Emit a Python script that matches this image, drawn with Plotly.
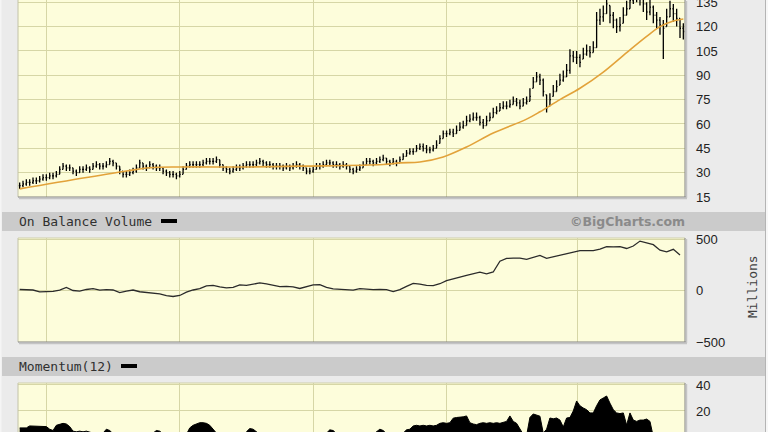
import plotly.graph_objects as go

W, H = 768, 432

# ---------------- data ----------------
closes = [22,23,24,24,25,25,26,27,27,28, 28,29,32,34,33,33,31,30,32,32,
          33,32,34,35,34,34,35,37,36,34, 32,29,29,30,31,33,36,34,33,35,
          34,33,33,31,30,29,29,28,29,32, 34,35,35,35,35,36,37,37,37,38,
          35,33,32,31,32,33,33,34,35,35, 35,36,37,36,35,35,34,34,34,33,
          34,33,34,35,34,33,31,31,32,34, 34,35,36,36,35,35,34,35,34,32,
          31,32,33,35,37,37,36,37,38,39, 37,36,37,36,38,40,42,43,43,45,
          46,45,44,44,45,47,51,54,54,55, 54,56,58,59,62,63,64,64,61,59,
          62,64,67,68,70,71,71,72,74,73, 71,73,74,77,86,89,87,80,70,75,
          80,83,87,89,93,102,101,101,98,103, 105,104,107,124,126,128,134,127,124,120,
          121,127,131,136,139,140,138,134,129,132, 127,124,121,119,126,131,128,125,119,117]
highs = [24,25,26,26,27,27,28,29,29,30, 30,31,34,36,35,35,33,32,34,34,
         35,34,36,37,36,36,37,39,38,36, 34,31,31,32,33,35,38,36,35,37,
         36,35,35,33,32,31,31,30,31,34, 36,37,37,37,37,38,39,39,39,40,
         38,35,34,33,34,35,35,36,37,37, 37,38,39,38,37,37,36,36,36,35,
         36,35,36,37,36,35,33,33,34,36, 36,37,38,38,37,37,36,37,36,34,
         33,34,35,37,39,39,38,39,40,41, 39,38,39,38,40,42,44,45,45,47,
         48,48,47,46,47,50,53,56,56,57, 57,59,61,62,65,66,67,67,65,63,
         65,67,70,71,73,74,74,75,77,76, 75,76,77,82,89,92,91,88,78,79,
         84,87,91,93,97,106,105,105,103,107, 109,108,111,129,131,133,140,133,129,125,
         126,132,136,141,144,145,143,139,135,137, 133,129,126,124,131,136,134,131,125,122]
lows = [20,21,22,22,23,23,24,25,25,26, 26,27,29,32,31,31,29,28,30,30,
        31,30,32,33,32,32,33,35,34,32, 29,27,27,28,29,30,33,32,31,33,
        32,31,31,29,28,27,27,26,27,29, 32,33,33,33,33,34,35,35,35,36,
        33,31,30,29,30,31,31,32,33,33, 33,34,35,34,33,33,32,32,32,31,
        32,31,32,33,32,31,29,29,30,32, 32,33,34,34,33,33,32,33,32,30,
        29,30,31,33,35,35,34,35,36,37, 35,34,35,34,36,38,40,41,41,43,
        44,43,42,42,43,45,48,51,52,53, 52,54,56,57,59,61,62,62,59,57,
        59,62,64,66,68,69,69,70,72,71, 69,71,72,74,82,86,84,77,67,71,
        77,80,84,86,89,91,98,97,95,100, 102,101,104,107,121,123,128,122,119,116,
        117,122,127,131,134,135,133,129,124,127, 122,119,115,100,120,126,123,120,113,112]

ma_idx = [0, 32, 39, 48, 69, 84, 109, 114, 120, 127, 134, 142, 152, 156, 162, 168, 175, 182, 188, 192, 196, 199]
ma_vals = [20, 31, 33, 33.5, 33.5, 34, 35, 36, 36.6, 39.7, 45.8, 54.4, 63, 67.5, 75, 82, 92, 104, 114, 120, 123.5, 124.7]

obv_vals = [10,10,5,-13,-13,-8,3,30,0,-5,
            10,18,3,8,5,-20,-5,5,-12,-18,
            -22,-33,-50,-58,-48,-15,5,18,45,50,
            35,25,30,55,50,60,74,65,55,38,
            40,35,20,40,55,58,30,15,10,5,
            3,18,12,8,12,8,-10,8,40,70,
            62,50,48,66,95,110,130,148,165,178,
            162,180,285,312,314,314,302,318,340,312,
            328,345,356,372,388,388,388,402,426,424,
            426,408,432,480,460,445,392,375,400,345]

momentum = [7,7,7,8.5,8.5,8.5,8.5,8.5,8,6, 5,9,10,10.5,10,8,4.5,4,4.5,4,
            4.5,4,3,2,2,3,6,5,2,0, 0,0,0,0,0,0,0,0,0,0,
            3,5,4.5,2,0,0,0,0,0,0, 2,7,9,10,11,11,10.5,9,6,3,
            0,0,0,0,0,0,0,0,4,6.5, 6,4,2,0,0,0,0,0,0,0,
            0,0,0,0,0,0,0,0,0,0, 0,0,3,5.5,5,3,0,0,0,0,
            0,0,0,0,0,0,2,4,6,5, 2,0,0,0,0,3,5.5,6,8.5,9,
            8.5,9,8.5,9,8.5,9,10.5,11,10.5,11, 14.5,15,15,15.5,16.2,11,10,9.5,10.5,11,
            10.5,11,10.5,11,10.5,11,12,16.2,12,10.5, 6,2,1,15,17.7,17,16,3,6,14.6,
            14,14.6,13,7.7,14.6,15,20,27.7,24,22.3, 21,18.5,18.5,24,28.5,30,31.5,26,21,18.5,
            18,18.5,9.2,18.5,13,12,13,13,13.8,12, 0,0,0,0,0,0,0,0,0,0]

price_ticks = [15, 30, 45, 60, 75, 90, 105, 120, 135]
obv_ticks = [-500, 0, 500]
mom_ticks = [20, 40]
year_lines = [7.9, 47.8, 88, 128, 167.4]

# ---------------- figure ----------------
n = len(closes)
idx = list(range(n))
opens = [closes[0]] + closes[:-1]
opens = [min(max(o, l), h) for o, l, h in zip(opens, lows, highs)]

def px(x):
    return x / W

def py(y):
    return 1 - y / H

BG = '#ebebeb'
PLOT_BG = '#fdfddb'
GRID = '#d6d6a6'
LEFT, RIGHT = 18, 685
panels = {'y': (0, 197), 'y2': (238, 342), 'y3': (383, 432)}

fig = go.Figure()
fig.add_trace(go.Scatter(x=ma_idx, y=ma_vals, mode='lines',
                         line=dict(color='#e2a23a', width=1.6, shape='spline'),
                         xaxis='x', yaxis='y', hoverinfo='skip'))
fig.add_trace(go.Ohlc(x=idx, open=opens, high=highs, low=lows, close=closes,
                      increasing=dict(line=dict(color='black', width=1.3)),
                      decreasing=dict(line=dict(color='black', width=1.3)),
                      tickwidth=0.3, xaxis='x', yaxis='y', hoverinfo='skip'))
fig.add_trace(go.Scatter(x=list(range(0, n, 2)), y=obv_vals, mode='lines',
                         line=dict(color='#2b2b2b', width=1.3),
                         xaxis='x2', yaxis='y2', hoverinfo='skip'))
fig.add_trace(go.Scatter(x=idx, y=momentum, mode='lines', fill='tozeroy',
                         fillcolor='black', line=dict(color='black', width=1),
                         xaxis='x3', yaxis='y3', hoverinfo='skip'))

tickfont = dict(family='Liberation Sans, Arial', size=13, color='#222222')

def xax(anchor):
    return dict(domain=[px(LEFT), px(RIGHT)], range=[-0.5, n - 0.5], anchor=anchor,
                tickvals=year_lines, showticklabels=False, ticks='',
                showgrid=True, gridcolor=GRID, gridwidth=1, zeroline=False,
                showline=False, fixedrange=True, automargin=False)

def yax(anchor, key, rng, tv):
    top, bot = panels[key]
    return dict(domain=[py(bot), py(top)], range=rng, anchor=anchor, side='right',
                tickvals=tv, ticks='', ticklabelstandoff=10, tickfont=tickfont,
                ticklabeloverflow='allow',
                showgrid=True, gridcolor=GRID, gridwidth=1, zeroline=False,
                showline=False, fixedrange=True, automargin=False)

shapes = []
# header bars
for (y0, y1) in [(212, 231), (357, 376)]:
    shapes.append(dict(type='rect', xref='paper', yref='paper', x0=px(2), x1=px(766),
                       y0=py(y1), y1=py(y0), fillcolor='#cbcbcb', line=dict(width=0), layer='below'))
# panel borders
for key, (top, bot) in panels.items():
    shapes.append(dict(type='line', xref='paper', yref='paper', x0=px(LEFT), x1=px(LEFT),
                       y0=py(bot), y1=py(top), line=dict(color='#c2c2a8', width=1)))
    if top > 0:
        shapes.append(dict(type='line', xref='paper', yref='paper', x0=px(LEFT), x1=px(RIGHT),
                           y0=py(top), y1=py(top), line=dict(color='#cfcfa8', width=1)))
    if bot < H:
        shapes.append(dict(type='line', xref='paper', yref='paper', x0=px(LEFT), x1=px(RIGHT + 1),
                           y0=py(bot), y1=py(bot), line=dict(color='#808080', width=1)))
        shapes.append(dict(type='line', xref='paper', yref='paper', x0=px(LEFT + 1), x1=px(RIGHT + 2),
                           y0=py(bot + 1.5), y1=py(bot + 1.5), line=dict(color='#c4c4c4', width=1.5)))
    shapes.append(dict(type='line', xref='paper', yref='paper', x0=px(RIGHT), x1=px(RIGHT),
                       y0=py(bot), y1=py(top), line=dict(color='#808080', width=1)))
    shapes.append(dict(type='line', xref='paper', yref='paper', x0=px(RIGHT + 1.5), x1=px(RIGHT + 1.5),
                       y0=py(bot + 1), y1=py(top + 1), line=dict(color='#c4c4c4', width=1.5)))
# legend dashes
shapes.append(dict(type='rect', xref='paper', yref='paper', x0=px(161), x1=px(177),
                   y0=py(223), y1=py(219), fillcolor='black', line=dict(width=0)))
shapes.append(dict(type='rect', xref='paper', yref='paper', x0=px(121), x1=px(137),
                   y0=py(368), y1=py(364), fillcolor='black', line=dict(width=0)))
# page edges
shapes.append(dict(type='rect', xref='paper', yref='paper', x0=px(765.5), x1=1, y0=0, y1=1,
                   fillcolor='#f7f7f7', line=dict(width=0), layer='below'))
shapes.append(dict(type='line', xref='paper', yref='paper', x0=px(765.5), x1=px(765.5), y0=0, y1=1,
                   line=dict(color='#b4b4b4', width=1)))
shapes.append(dict(type='rect', xref='paper', yref='paper', x0=0, x1=px(1.5), y0=0, y1=1,
                   fillcolor='#f5f5f5', line=dict(width=0), layer='below'))

mono = dict(family='DejaVu Sans Mono', size=13, color='#303030')
annotations = [
    dict(text='On Balance Volume', x=px(17), y=py(221.5), xref='paper', yref='paper',
         xanchor='left', yanchor='middle', showarrow=False, font=mono),
    dict(text='Momentum(12)', x=px(17), y=py(366.5), xref='paper', yref='paper',
         xanchor='left', yanchor='middle', showarrow=False, font=mono),
    dict(text='<b>©BigCharts.com</b>', x=px(687), y=py(221.5), xref='paper', yref='paper',
         xanchor='right', yanchor='middle', showarrow=False,
         font=dict(family='DejaVu Sans', size=12.5, color='#8a8a8a')),
    dict(text='Millions', x=px(752), y=py(287), xref='paper', yref='paper', textangle=-90,
         xanchor='center', yanchor='middle', showarrow=False,
         font=dict(family='DejaVu Sans Mono', size=13, color='#404040')),
]

fig.update_layout(
    width=W, height=H, margin=dict(l=0, r=0, t=0, b=0, autoexpand=False),
    paper_bgcolor=BG, plot_bgcolor=PLOT_BG, showlegend=False,
    xaxis=dict(xax('y'), rangeslider=dict(visible=False)),
    xaxis2=xax('y2'), xaxis3=xax('y3'),
    yaxis=yax('x', 'y', [15, 136.4], price_ticks),
    yaxis2=yax('x2', 'y2', [-500, 510], obv_ticks),
    yaxis3=yax('x3', 'y3', [3.85, 41.5], mom_ticks),
    shapes=shapes, annotations=annotations,
)

fig.write_html('out.html', config={'displayModeBar': False},
               post_script="document.body.style.margin='0';document.body.style.overflow='hidden';")
